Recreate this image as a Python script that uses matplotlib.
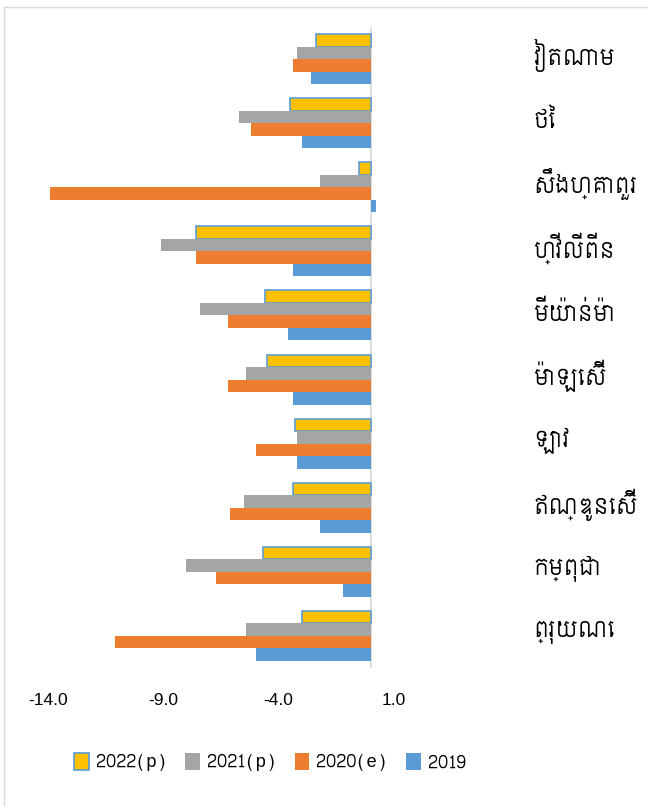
import matplotlib
matplotlib.use("Agg")
import matplotlib.pyplot as plt
from matplotlib.lines import Line2D
from matplotlib.patches import Patch
from matplotlib.transforms import blended_transform_factory
import numpy as np

categories = ["វៀតណាម", "ថៃ", "សឹងហ្គាពួរ", "ហ្វីលីពីន", "មីយ៉ាន់ម៉ា",
              "ម៉ាឡេស៊ី", "ឡាវ", "ឥណ្ឌូនេស៊ី", "កម្ពុជា", "ព្រុយណេ"]
series_names = ["2022(p)", "2021(p)", "2020(e)", "2019"]
v2022 = [-2.4, -3.5, -0.5, -7.6, -4.6, -4.5, -3.3, -3.4, -4.7, -3.0]
v2021 = [-3.2, -5.7, -2.2, -9.1, -7.4, -5.4, -3.2, -5.5, -8.0, -5.4]
v2020 = [-3.4, -5.2, -13.9, -7.6, -6.2, -6.2, -5.0, -6.1, -6.7, -11.1]
v2019 = [-2.6, -3.0, 0.2, -3.4, -3.6, -3.4, -3.2, -2.2, -1.2, -5.0]
xticks = [-14.0, -9.0, -4.0, 1.0]

colors = ["#FFC000", "#A5A5A5", "#ED7D31", "#5B9BD5"]
khmer = ["Siemreap", "DejaVu Sans"]
latin = ["Liberation Sans", "DejaVu Sans"]

W, H = 648, 806
fig = plt.figure(figsize=(W / 100, H / 100), dpi=100)
ax = fig.add_axes([48 / W, 1 - 668 / H, 346 / W, 641 / H])

y = np.arange(len(categories))
h = 0.195
series = [v2022, v2021, v2020, v2019]
for k, (vals, c) in enumerate(zip(series, colors)):
    off = (k - 1.5) * h
    if k == 0:
        ax.barh(y + off, vals, height=h, color=c, edgecolor="#5B9BD5", linewidth=1.2, zorder=3)
    else:
        ax.barh(y + off, vals, height=h, color=c, edgecolor="none", zorder=3)

ax.set_xlim(-14, 1)
ax.set_ylim(len(categories) - 0.5, -0.5)
ax.axvline(0, color="#D9D9D9", linewidth=1.2, zorder=2)
for s in ax.spines.values():
    s.set_visible(False)
ax.set_yticks([])
ax.set_xticks(xticks)
ax.set_xticklabels([f"{t:.1f}" for t in xticks], fontfamily=latin, fontsize=12.5)
ax.tick_params(axis="x", length=0, pad=18)

tr = blended_transform_factory(fig.transFigure, ax.transData)
for i, name in enumerate(categories):
    ax.text(533 / W, i - 0.05, name, transform=tr,
            ha="left", va="center", fontsize=16, fontfamily=khmer)

handles = [Patch(facecolor=colors[0], edgecolor="#5B9BD5", linewidth=1.2)] + \
          [Patch(facecolor=c, edgecolor="none") for c in colors[1:]]
fig.legend(handles, series_names, loc="center", bbox_to_anchor=(270 / W, 1 - 762 / H), ncol=4,
           frameon=False, prop={"family": ["Siemreap", "Liberation Sans"], "size": 13},
           handlelength=0.8, handleheight=1.1,
           handletextpad=0.4, columnspacing=1.05)

# chart border
fig.add_artist(Line2D([4 / W, 1.0], [1 - 7 / H, 1 - 7 / H], transform=fig.transFigure, color="#D9D9D9", linewidth=1))
fig.add_artist(Line2D([4 / W, 4 / W], [0, 1 - 7 / H], transform=fig.transFigure, color="#D9D9D9", linewidth=1))

fig.savefig("out.png", dpi=100)
